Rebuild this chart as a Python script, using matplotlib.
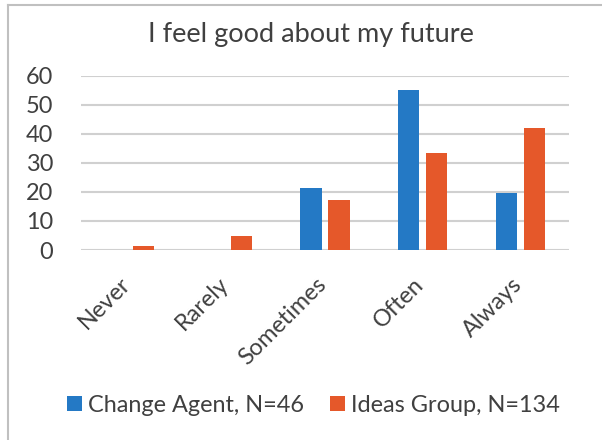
import matplotlib
matplotlib.use("Agg")
import matplotlib.pyplot as plt
import numpy as np
from matplotlib.lines import Line2D
from matplotlib.transforms import ScaledTranslation

categories = ["Never", "Rarely", "Sometimes", "Often", "Always"]
change_agent = [0, 0, 21.3, 55.0, 19.5]
ideas_group = [1.4, 4.7, 17.3, 33.5, 41.9]
series_names = ["Change Agent, N=46", "Ideas Group, N=134"]
yticks = [0, 10, 20, 30, 40, 50, 60]
title = "I feel good about my future"

plt.rcParams['font.family'] = ['Lato', 'DejaVu Sans']
txt = '#404040'
blue = '#2479C5'
orange = '#E5582A'

W, H = 602, 440
fig = plt.figure(figsize=(W / 100, H / 100), dpi=100)
renderer = fig.canvas.get_renderer()


def fit_size(s, target_px, base=10):
    t = fig.text(0, 0, s, fontsize=base)
    w = t.get_window_extent(renderer).width
    t.remove()
    return base * target_px / w


title_fs = fit_size(title, 326)
label_fs = fit_size(series_names[0], 216)

L, R, T, B = 80.7, 569.3, 75.7, 250.0
ax = fig.add_axes([L / W, 1 - B / H, (R - L) / W, (B - T) / H])

x = np.arange(len(categories))
w = 0.22
off = 0.143
ax.bar(x - off, change_agent, w, color=blue, label=series_names[0], zorder=3)
ax.bar(x + off, ideas_group, w, color=orange, label=series_names[1], zorder=3)

ax.set_xlim(-0.5, len(categories) - 0.5)
ax.set_ylim(0, 60)
ax.set_yticks(yticks)
ax.yaxis.grid(True, color='#D0D0D0', linewidth=1.5, zorder=0)
ax.set_axisbelow(True)
for s in ax.spines.values():
    s.set_visible(False)
ax.tick_params(axis='both', length=0, colors=txt)
ax.tick_params(axis='y', labelsize=label_fs, pad=27.4 * 0.72)
ax.set_xticks(x)
ax.set_xticklabels(categories, rotation=45, ha='right', va='center',
                   rotation_mode='anchor', fontsize=label_fs, color=txt)
ax.tick_params(axis='x', pad=0)
for lab in ax.get_xticklabels():
    lab.set_transform(lab.get_transform() + ScaledTranslation(-0.02, -0.31, fig.dpi_scale_trans))

fig.text(311 / W, 1 - 41.7 / H, title, ha='center', va='baseline', fontsize=title_fs, color=txt)

fpx = label_fs * 100 / 72
leg = fig.legend(loc='center', bbox_to_anchor=(313.5 / W, 1 - 405 / H), ncol=2, frameon=False,
                 fontsize=label_fs, handlelength=15 / fpx, handleheight=14 / fpx,
                 handletextpad=6 / fpx, columnspacing=26 / fpx, borderpad=0,
                 labelcolor=txt)

# chart border (left and top visible)
fig.add_artist(Line2D([7.5 / W, 7.5 / W], [0, 1 - 5 / H], color='#C0C0C0', linewidth=1.5, transform=fig.transFigure))
fig.add_artist(Line2D([7.5 / W, 1], [1 - 5 / H, 1 - 5 / H], color='#C0C0C0', linewidth=1.5, transform=fig.transFigure))

fig.savefig("out.png", dpi=100, facecolor='white')
